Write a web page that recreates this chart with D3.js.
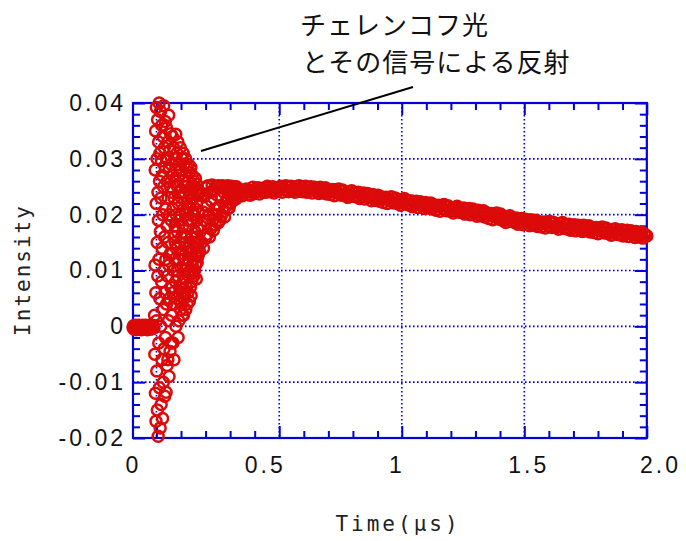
<!DOCTYPE html>
<html><head><meta charset="utf-8">
<script src="https://cdn.jsdelivr.net/npm/d3@7"></script>
<style>body{margin:0;background:#fff}svg{display:block}</style>
</head><body>
<svg id="c" width="686" height="541"></svg>
<script>
const flatStart = 0, flatStep = 0.002;
const flatValues = [-0.0002,0.0001,-0.0005,0.0000,-0.0003,0.0002,-0.0006,-0.0001,0.0001,-0.0004,
 -0.0002,0.0002,-0.0005,0.0000,-0.0003,0.0001,-0.0006,-0.0002,0.0002,-0.0004,
 -0.0001,0.0001,-0.0005,-0.0002,0.0002,-0.0003,0.0000,-0.0006,-0.0001,0.0001,
 -0.0004,-0.0002,0.0002,-0.0005,0.0000,-0.0003,0.0001,-0.0004,-0.0002,0.0001,-0.0003];

const spikeStart = 0.082, spikeStep = 0.00075;
const spikeValues = [
 0.0020,-0.0050,0.0110,0.0280,-0.0120,0.0350,0.0060,-0.0170,0.0220,0.0392,0.0010,-0.0080,0.0300,0.0150,
 -0.0150,0.0370,0.0090,0.0240,-0.0197,0.0190,0.0330,-0.0030,0.0120,0.0400,-0.0110,0.0260,0.0050,0.0310,
 -0.0182,0.0170,0.0385,0.0000,0.0230,-0.0140,0.0296,0.0080,0.0360,-0.0060,0.0140,0.0270,-0.0165,0.0200,
 0.0340,0.0030,-0.0100,0.0250,0.0395,0.0100,-0.0040,0.0320,0.0160,-0.0125,0.0060,0.0285,0.0367,-0.0020,
 0.0210,0.0120,-0.0118,0.0300,0.0040,0.0355,0.0180,-0.0070,0.0260,0.0090,0.0330,-0.0060,0.0150,0.0230,
 0.0010,0.0378,0.0110,-0.0090,0.0280,0.0200,0.0050,0.0315,-0.0045,0.0130,0.0250,0.0345,0.0070,-0.0030,
 0.0190,0.0290,0.0020,0.0240,0.0070,0.0130,0.0340,0.0060,0.0210,-0.0030,0.0270,0.0100,0.0320,0.0160,
 -0.0060,0.0230,0.0040,0.0300,0.0120,0.0180,0.0150,0.0260,0.0080,0.0344,0.0000,0.0200,0.0140,0.0280,
 0.0050,0.0310,0.0100,0.0170,0.0250,0.0090,0.0330,-0.0020,0.0220,0.0120,0.0290,0.0010,0.0190,0.0270,
 0.0070,0.0130,0.0240,0.0150,0.0320,0.0030,0.0200,0.0105,0.0280,0.0040,0.0160,0.0230,0.0060,0.0300,
 0.0130,0.0020,0.0260,0.0180,0.0080,0.0310,0.0020,0.0210,0.0120,0.0290,0.0050,0.0240,0.0160,0.0060,
 0.0270,0.0100,0.0200,0.0300,0.0030,0.0150,0.0250,0.0070,0.0220,0.0110,0.0285,0.0040,0.0190,0.0140,
 0.0260,0.0060,0.0210,0.0120,0.0290,0.0090,0.0180,0.0240,0.0045,0.0150,0.0275,0.0100,0.0220,0.0070,
 0.0190,0.0285,0.0130,0.0055,0.0250,0.0160,0.0080,0.0230,0.0110,0.0270,0.0140,0.0200,0.0095,0.0245,
 0.0120,0.0230,0.0090,0.0260,0.0150,0.0200,0.0100,0.0250,0.0170,0.0130,0.0265,0.0210,0.0110,0.0240,
 0.0160,0.0085,0.0220,0.0255,0.0140,0.0190,0.0115,0.0245,0.0175,0.0125,0.0235,0.0150,0.0205,0.0130,0.0240];

const ringStart = 0.2525, ringStep = 0.0025;
const ringValues = [
 0.0135,0.0240,0.0180,0.0150,0.0236,0.0205,0.0140,0.0232,
 0.0190,0.0158,0.0248,0.0215,0.0165,0.0252,0.0200,0.0160,
 0.0240,0.0175,0.0225,0.0253,0.0190,0.0172,0.0245,0.0210,
 0.0182,0.0251,0.0200,0.0235,0.0185,0.0252,0.0215,0.0190,
 0.0248,0.0198,0.0230,0.0252,0.0205,0.0240,0.0196,0.0250,
 0.0215,0.0245,0.0210,0.0252,0.0228,0.0212,0.0249,0.0235,
 0.0222,0.0251,0.0238,0.0226,0.0250,0.0232,0.0245,0.0228,
 0.0250,0.0236,0.0247];

const tailStart = 0.40, tailStep = 0.005;
const tailValues = [
 0.0245,0.0237,0.0241,0.0234,0.0244,0.0239,0.0246,0.0236,0.0242,0.0235,
 0.0241,0.0249,0.0238,0.0246,0.0242,0.0248,0.0237,0.0245,0.0247,0.0240,
 0.0248,0.0240,0.0251,0.0243,0.0241,0.0246,0.0250,0.0239,0.0247,0.0244,
 0.0242,0.0248,0.0251,0.0240,0.0249,0.0245,0.0252,0.0243,0.0241,0.0250,
 0.0251,0.0243,0.0247,0.0240,0.0250,0.0245,0.0252,0.0242,0.0248,0.0241,
 0.0243,0.0251,0.0240,0.0248,0.0244,0.0250,0.0239,0.0247,0.0249,0.0242,
 0.0246,0.0238,0.0249,0.0241,0.0239,0.0244,0.0248,0.0237,0.0245,0.0242,
 0.0236,0.0242,0.0245,0.0234,0.0243,0.0239,0.0246,0.0237,0.0235,0.0244,
 0.0242,0.0234,0.0238,0.0231,0.0241,0.0236,0.0243,0.0233,0.0239,0.0232,
 0.0232,0.0240,0.0229,0.0237,0.0233,0.0239,0.0228,0.0236,0.0238,0.0231,
 0.0233,0.0225,0.0236,0.0228,0.0226,0.0231,0.0235,0.0224,0.0232,0.0229,
 0.0222,0.0228,0.0231,0.0220,0.0229,0.0225,0.0232,0.0223,0.0221,0.0230,
 0.0228,0.0220,0.0224,0.0217,0.0227,0.0222,0.0229,0.0219,0.0225,0.0218,
 0.0217,0.0225,0.0214,0.0222,0.0218,0.0224,0.0213,0.0221,0.0223,0.0216,
 0.0219,0.0211,0.0222,0.0214,0.0212,0.0217,0.0221,0.0210,0.0218,0.0215,
 0.0208,0.0214,0.0217,0.0206,0.0215,0.0211,0.0218,0.0209,0.0207,0.0216,
 0.0214,0.0206,0.0210,0.0203,0.0213,0.0208,0.0215,0.0205,0.0211,0.0204,
 0.0204,0.0212,0.0201,0.0209,0.0205,0.0211,0.0200,0.0208,0.0210,0.0203,
 0.0205,0.0197,0.0208,0.0200,0.0198,0.0203,0.0207,0.0196,0.0204,0.0201,
 0.0193,0.0199,0.0202,0.0191,0.0200,0.0196,0.0203,0.0194,0.0192,0.0201,
 0.0197,0.0189,0.0193,0.0186,0.0196,0.0191,0.0198,0.0188,0.0194,0.0187,
 0.0186,0.0194,0.0183,0.0191,0.0187,0.0193,0.0182,0.0190,0.0192,0.0185,
 0.0188,0.0180,0.0191,0.0183,0.0181,0.0186,0.0190,0.0179,0.0187,0.0184,
 0.0178,0.0184,0.0187,0.0176,0.0185,0.0181,0.0188,0.0179,0.0177,0.0186,
 0.0185,0.0177,0.0181,0.0174,0.0184,0.0179,0.0186,0.0176,0.0182,0.0175,
 0.0175,0.0183,0.0172,0.0180,0.0176,0.0182,0.0171,0.0179,0.0181,0.0174,
 0.0178,0.0170,0.0181,0.0173,0.0171,0.0176,0.0180,0.0169,0.0177,0.0174,
 0.0168,0.0174,0.0177,0.0166,0.0175,0.0171,0.0178,0.0169,0.0167,0.0176,
 0.0174,0.0166,0.0170,0.0163,0.0173,0.0168,0.0175,0.0165,0.0171,0.0164,
 0.0165,0.0173,0.0162,0.0170,0.0166,0.0172,0.0161,0.0169,0.0171,0.0164,
 0.0167,0.0159,0.0170,0.0162,0.0160,0.0165,0.0169,0.0158,0.0166,0.0163,
 0.0162];

// axes
const xTickLabels = [0, 0.5, 1, 1.5, 2.0];
const xTickText = ["0", "0.5", "1", "1.5", "2.0"];
const xMajor = [0.089, 0.555, 1.020, 1.485, 1.950];
const xFrame = [0, 1.950];
const yTickLabels = [0.04, 0.03, 0.02, 0.01, 0, -0.01, -0.02];
const yTickText = ["0.04", "0.03", "0.02", "0.01", "0", "-0.01", "-0.02"];
const yDomain = [-0.02, 0.04];

const annotationLines = ["チェレンコフ光", "とその信号による反射"];
const xTitle = "Time(μs)";
const yTitle = "Intensity";

// ---- drawing ----
const blue = "#0000dd", red = "#dc0a0a";
const svg = d3.select("#c");
const x = d3.scaleLinear().domain([0, 2]).range([133, 660]);
const y = d3.scaleLinear().domain(yDomain).range([438, 103]);
const xL = x(xFrame[0]), xR = x(xFrame[1]), yT = y(yDomain[1]), yB = y(yDomain[0]);

function seg(start, step, vals) { return vals.map((v, i) => ({ t: start + i * step, v })); }
const data = [].concat(seg(flatStart, flatStep, flatValues), seg(spikeStart, spikeStep, spikeValues),
  seg(ringStart, ringStep, ringValues), seg(tailStart, tailStep, tailValues));

// minor ticks: 5 subdivisions per major interval
const mstep = (xMajor[1] - xMajor[0]) / 5;
const xMinor = [];
for (let j = 1; j < 5; j++) { const v = xMajor[0] - j * mstep; if (v > xFrame[0] + 0.01) xMinor.push(v); }
for (let k = 0; k < xMajor.length - 1; k++) for (let j = 1; j < 5; j++) xMinor.push(xMajor[k] + j * mstep);
const yMajor = d3.range(-2, 5).map(k => k * 0.01);
const yMinor = d3.range(-10, 21).map(k => k * 0.002).filter(v => Math.abs(v / 0.01 - Math.round(v / 0.01)) > 1e-6);

// grid
const grid = svg.append("g").attr("stroke", blue).attr("stroke-width", 1.6).attr("stroke-dasharray", "1.6 2.4");
grid.selectAll(".gx").data(xMajor.slice(0, -1)).join("line").attr("class", "gx")
  .attr("x1", d => x(d)).attr("x2", d => x(d)).attr("y1", yT).attr("y2", yB);
grid.selectAll(".gy").data(yMajor.slice(1, -1)).join("line").attr("class", "gy")
  .attr("x1", xL).attr("x2", xR).attr("y1", d => y(d)).attr("y2", d => y(d));

// ticks (inward) on all four sides
function ticks(axisFn, scale, vals, size, tr) {
  const g = svg.append("g").attr("transform", tr)
    .call(axisFn(scale).tickValues(vals).tickSize(-size).tickFormat(""));
  g.select(".domain").remove();
  g.selectAll("line").attr("stroke", blue).attr("stroke-width", 2);
}
ticks(d3.axisBottom, x, xMajor, 12, `translate(0,${yB})`);
ticks(d3.axisBottom, x, xMinor, 7, `translate(0,${yB})`);
ticks(d3.axisTop, x, xMajor, 12, `translate(0,${yT})`);
ticks(d3.axisTop, x, xMinor, 7, `translate(0,${yT})`);
ticks(d3.axisLeft, y, yMajor, 12, `translate(${xL},0)`);
ticks(d3.axisLeft, y, yMinor, 7, `translate(${xL},0)`);
ticks(d3.axisRight, y, yMajor, 12, `translate(${xR},0)`);
ticks(d3.axisRight, y, yMinor, 7, `translate(${xR},0)`);

svg.append("rect").attr("x", xL).attr("y", yT).attr("width", xR - xL).attr("height", yB - yT)
  .attr("fill", "none").attr("stroke", blue).attr("stroke-width", 2.2);

// tick labels
const lblFont = "'Liberation Sans', Arial, sans-serif";
const gxl = svg.append("g").attr("transform", `translate(0,${yB})`)
  .call(d3.axisBottom(x).tickValues(xTickLabels).tickSize(0).tickPadding(19).tickFormat((d, i) => xTickText[i]));
gxl.select(".domain").remove();
gxl.selectAll("text").attr("font-family", lblFont).attr("font-size", 23).attr("letter-spacing", "3px").attr("fill", "#111");
const gyl = svg.append("g").attr("transform", `translate(${xL},0)`)
  .call(d3.axisLeft(y).tickValues(yTickLabels).tickSize(0).tickPadding(7).tickFormat((d, i) => yTickText[i]));
gyl.select(".domain").remove();
gyl.selectAll("text").attr("font-family", lblFont).attr("font-size", 23).attr("letter-spacing", "3px").attr("fill", "#111");

// axis titles
const ttlFont = "'DejaVu Sans Mono', monospace";
svg.append("text").attr("x", 398).attr("y", 531).attr("text-anchor", "middle")
  .attr("font-family", ttlFont).attr("font-size", 21).attr("letter-spacing", "3px").attr("fill", "#222").text(xTitle);
svg.append("text").attr("transform", "translate(30,270) rotate(-90)").attr("text-anchor", "middle")
  .attr("font-family", ttlFont).attr("font-size", 21).attr("letter-spacing", "2px").attr("fill", "#222").text(yTitle);

// data markers
svg.append("g").selectAll("circle").data(data).join("circle")
  .attr("cx", d => x(d.t)).attr("cy", d => y(d.v)).attr("r", 5.5)
  .attr("fill", "none").attr("stroke", red).attr("stroke-width", 2.5);

// annotation
svg.append("line").attr("x1", 201).attr("y1", 151).attr("x2", 413).attr("y2", 87)
  .attr("stroke", "#000").attr("stroke-width", 2);
const annX = [300, 302], annY = [35, 72];
annotationLines.forEach((s, i) => {
  svg.append("text").attr("x", annX[i]).attr("y", annY[i])
    .attr("font-family", "'Noto Sans CJK JP', sans-serif").attr("font-size", 26).attr("letter-spacing", "1px")
    .attr("fill", "#111").text(s);
});
</script>
</body></html>
